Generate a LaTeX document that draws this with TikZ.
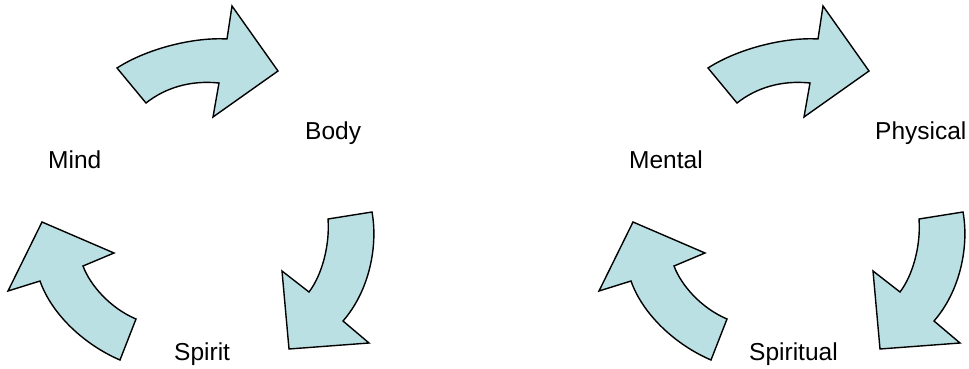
\documentclass[tikz,border=0pt]{standalone}
\usepackage{fontspec}
\setmainfont{Liberation Sans}
\definecolor{arrowfill}{RGB}{187,224,227}
\begin{document}
\begin{tikzpicture}[x=1pt,y=-1pt,
  bentarrow/.style={draw=black,fill=arrowfill,line width=1.4pt,line join=miter},
  label/.style={inner sep=0pt,anchor=base west,font=\fontsize{24.5}{29}\selectfont},
  arrowtrio/.pic={
    \path[bentarrow] (117,68) .. controls (148,48) and (195,37) .. (227,39)
      -- (232,6) -- (278,71) -- (213,117) -- (219,83)
      .. controls (190,80) and (165,88) .. (146,103) -- cycle;
    \path[bentarrow] (328,219) -- (372,212)
      .. controls (378,245) and (370,290) .. (343,321)
      -- (369,343) -- (289,349) -- (282,271) -- (309,292)
      .. controls (322,275) and (330,245) .. cycle;
    \path[bentarrow] (42,222) -- (114,253) -- (83,266)
      .. controls (90,285) and (110,308) .. (136,319)
      -- (120,360) .. controls (85,345) and (52,315) .. (40,281)
      -- (8,291) -- cycle;
  }]
\useasboundingbox (0,0) rectangle (969,369);
\pic at (0,0) {arrowtrio};
\pic at (591,0) {arrowtrio};
\node[label] (mind) at (48,168) {Mind};
\node[label] (body) at (305,139) {Body};
\node[label] (spirit) at (174,360) {Spirit};
\node[label] (mental) at (629,168) {Mental};
\node[label] (physical) at (875,139) {Physical};
\node[label] (spiritual) at (749,360) {Spiritual};
\end{tikzpicture}
\end{document}
